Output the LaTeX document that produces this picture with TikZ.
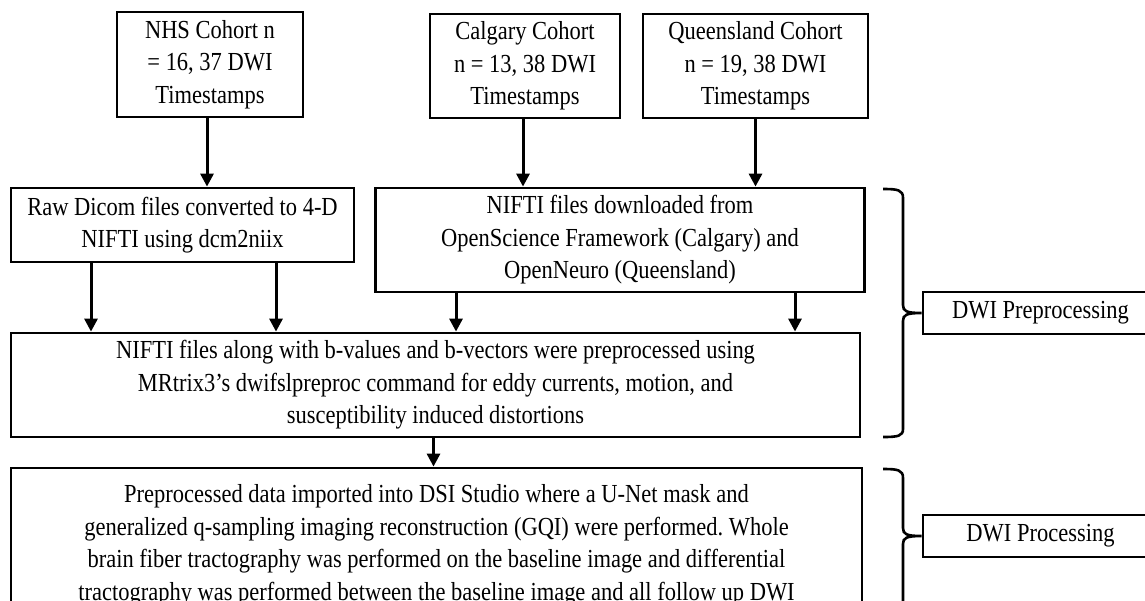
\documentclass[tikz,border=0pt]{standalone}
\usepackage{fontspec}
\usepackage{graphicx}
\setmainfont{Liberation Serif}
\usetikzlibrary{arrows.meta}
\frenchspacing
\newcommand{\nar}[1]{\scalebox{0.865}[1]{#1}}
\tikzset{
  boxnode/.style={draw, line width=2.8pt, align=center, inner sep=0pt,
    font=\fontsize{26}{32.5}\selectfont},
  arr/.style={line width=3pt, -{Triangle[length=13pt,width=13pt]}},
  bracepath/.style={line width=2.6pt},
}
\begin{document}
\begin{tikzpicture}[x=1pt,y=-1pt]
\clip (0,0) rectangle (1145,600);
\fill[white] (0,0) rectangle (1145,600);

\node[boxnode, minimum width=186pt, minimum height=105pt] (nhs) at (210,64.5)
  {\nar{NHS Cohort n}\\\nar{= 16, 37 DWI}\\\nar{Timestamps}};
\node[boxnode, minimum width=190pt, minimum height=104pt] (cal) at (525,66)
  {\nar{Calgary Cohort}\\\nar{n = 13, 38 DWI}\\\nar{Timestamps}};
\node[boxnode, minimum width=225pt, minimum height=104pt] (qld) at (755.5,66)
  {\nar{Queensland Cohort}\\\nar{n = 19, 38 DWI}\\\nar{Timestamps}};

\node[boxnode, minimum width=343pt, minimum height=74pt] (raw) at (182.5,225)
  {\nar{Raw Dicom files converted to 4-D}\\\nar{NIFTI using dcm2niix}};
\node[boxnode, minimum width=489pt, minimum height=104pt] (nifti) at (620,240)
  {\nar{NIFTI files downloaded from}\\\nar{OpenScience Framework (Calgary) and}\\\nar{OpenNeuro (Queensland)}};

\node[boxnode, minimum width=849pt, minimum height=104pt] (pre) at (435.5,385)
  {\nar{NIFTI files along with b-values and b-vectors were preprocessed using}\\\nar{MRtrix3’s dwifslpreproc command for eddy currents, motion, and}\\\nar{susceptibility induced distortions}};

\node[boxnode, minimum width=851pt, minimum height=155pt] (proc) at (436.5,545.5)
  {\nar{Preprocessed data imported into DSI Studio where a U-Net mask and}\\\nar{generalized q-sampling imaging reconstruction (GQI) were performed. Whole}\\\nar{brain fiber tractography was performed on the baseline image and differential}\\\nar{tractography was performed between the baseline image and all follow up DWI}};

\node[boxnode, minimum width=235pt, minimum height=42pt] (lab1) at (1040.5,313)
  {\nar{DWI Preprocessing}};
\node[boxnode, minimum width=235pt, minimum height=42pt] (lab2) at (1040.5,536)
  {\nar{DWI Processing}};

% arrows
\draw[arr] ([xshift=-3pt]nhs.south) -- ([xshift=-3pt]nhs.south |- raw.north);
\draw[arr] ([xshift=-2pt]cal.south) -- ([xshift=-2pt]cal.south |- nifti.north);
\draw[arr] (qld.south) -- (qld.south |- nifti.north);
\draw[arr] ([xshift=-91.5pt]raw.south) -- ([xshift=-91.5pt]raw.south |- pre.north);
\draw[arr] ([xshift=93.5pt]raw.south) -- ([xshift=93.5pt]raw.south |- pre.north);
\draw[arr] ([xshift=-164pt]nifti.south) -- ([xshift=-164pt]nifti.south |- pre.north);
\draw[arr] ([xshift=175pt]nifti.south) -- ([xshift=175pt]nifti.south |- pre.north);
\draw[arr] ([xshift=-2pt]pre.south) -- ([xshift=-2pt]pre.south |- proc.north);

% braces
\draw[bracepath] (883,189) .. controls (898,189) and (903,190) .. (903,198)
  -- (903,305) .. controls (903,311) and (906,313) .. (lab1.west)
  (lab1.west) .. controls (906,313) and (903,315) .. (903,321)
  -- (903,429) .. controls (903,436) and (898,437) .. (883,437);
\draw[bracepath] (883,469) .. controls (898,469) and (903,470) .. (903,478)
  -- (903,528) .. controls (903,534) and (906,536) .. (lab2.west)
  (lab2.west) .. controls (906,536) and (903,538) .. (903,544)
  -- (903,640);
\end{tikzpicture}
\end{document}
